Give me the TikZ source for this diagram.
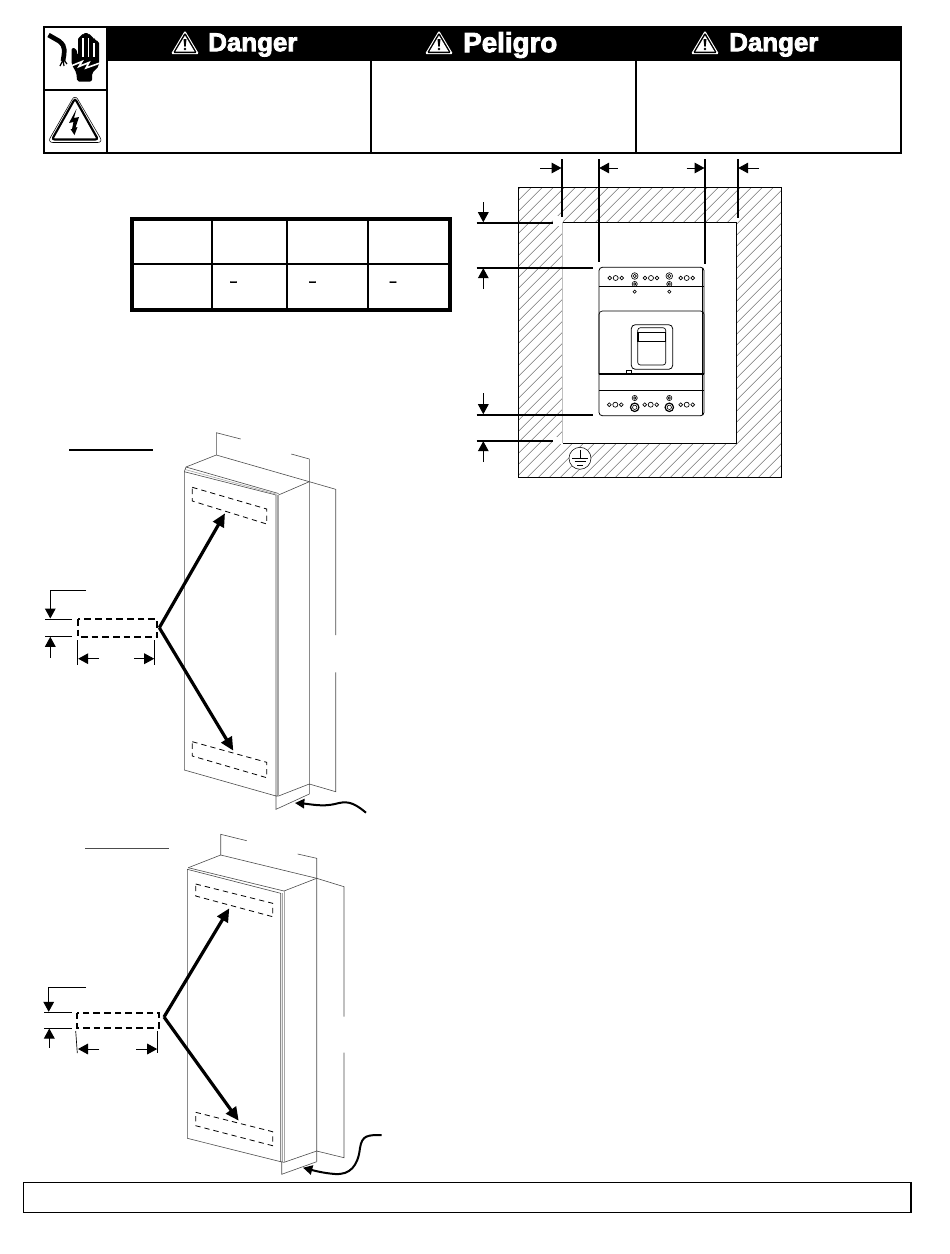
\documentclass[tikz,border=0pt]{standalone}
\usepackage{fontspec}
\usetikzlibrary{arrows.meta}
\newfontfamily\dangerfont[BoldFeatures={FakeBold=3}]{Liberation Sans}

\tikzset{
  thinline/.style={line width=0.45pt,color=black!70},
  doorline/.style={line width=0.45pt,color=black!35},
  hatchline/.style={line width=0.4pt,color=black!55},
  dimline/.style={line width=0.5pt},
  heavyline/.style={line width=1.5pt},
  dimarrow/.style={line width=0.75pt,-{Triangle[length=7.5pt,width=8pt]}},
  bigarrow/.style={line width=2.4pt,-{Triangle[length=10pt,width=9pt]}},
  cablearrow/.style={line width=1.5pt,-{Triangle[length=7pt,width=7pt]}},
  slotdash/.style={line width=0.6pt,dash pattern=on 4pt off 3pt},
  bigdash/.style={line width=1.3pt,dash pattern=on 5pt off 3pt},
  signtext/.style={font=\dangerfont\bfseries\fontsize{19.4pt}{20pt}\selectfont,text=white,inner sep=0pt},
  cellmark/.style={font=\dangerfont\bfseries\fontsize{9.5pt}{10pt}\selectfont,inner sep=0pt},
  pics/warntri/.style={code={
    \fill[white,rounded corners=1pt] (0,12.5) -- (14,-11) -- (-14,-11) -- cycle;
    \fill[black,rounded corners=1pt] (0,10.5) -- (12,-10) -- (-12,-10) -- cycle;
    \fill[white] (0,7.5) -- (9.5,-8.5) -- (-9.5,-8.5) -- cycle;
    \fill[black] (-1.5,4) -- (1.5,4) -- (0.7,-3.5) -- (-0.7,-3.5) -- cycle;
    \fill[black] (0,-6) circle [radius=1.4];
  }},
  pics/holes/.style={code={
    \draw[line width=0.5pt] (-6,0) circle [radius=1.9] (0,0) circle [radius=2.5] (6,0) circle [radius=1.9];
  }},
}

\begin{document}
\begin{tikzpicture}[x=0.75pt,y=0.75pt,yscale=-1,xscale=1]
\useasboundingbox (0,0) rectangle (950,1254);

% warning banner
\fill (107,27) rectangle (901,60.7);
\draw [heavyline] (44,27) rectangle (901,153);
\draw [heavyline] (44,90) -- (107,90);
\draw [heavyline] (107,27) -- (107,153);
\draw [heavyline] (371,60) -- (371,153);
\draw [heavyline] (636,60) -- (636,153);
\pic at (185,43) {warntri};
\pic at (439,43) {warntri};
\pic at (705,43) {warntri};
\node (dangerA) [signtext,anchor=west] at (208,45) {Danger};
\node (peligro) [signtext,anchor=west,font=\dangerfont\bfseries\fontsize{20.8pt}{21pt}\selectfont] at (463,45) {Peligro};
\node (dangerB) [signtext,anchor=west] at (729,45) {Danger};

% hand and cable icon
\draw [line width=3.5pt] (48.5,35) -- (59,41) .. controls (67,47) and (64,53) .. (63,61);
\draw [line width=0.9pt] (63,60) -- (60,66) (63,60) -- (64,66) (64,60) -- (67,64);
\fill [rounded corners=1.5pt] (71.5,48) -- (76,48) -- (78,56) -- (78,37) -- (82,36) -- (83,33) -- (89,33) -- (90,36) -- (94,37) -- (94,40) -- (99,41) -- (99,66) -- (92,73) -- (92,81.5) -- (77,81.5) -- (76.5,73) -- (71.5,64) -- cycle;
\draw [white,line width=0.8pt] (83,38) -- (83,57) (88.5,38) -- (88.5,57) (94,43) -- (94,57);
\draw [white,line width=1.2pt] (71,66) -- (82,61.5) -- (79,66.5) -- (89,62.5) -- (86,68) -- (100,63);

% shock triangle icon
\draw [line width=0.4pt,rounded corners=4pt] (75,94.5) -- (103,142.5) -- (47.5,142.5) -- cycle;
\draw [line width=1.6pt,rounded corners=2pt] (75,98.5) -- (98,139.5) -- (52,139.5) -- cycle;
\fill (76.5,109) -- (69,123) -- (73.5,122) -- (72,129) -- (70.5,129) -- (74.5,135) -- (77.5,127) -- (75.5,127.5) -- (79,117) -- (74,118) -- cycle;

% table
\draw [line width=1.5pt] (212,217) -- (212,311);
\draw [line width=1.5pt] (287,217) -- (287,311);
\draw [line width=1.5pt] (368,217) -- (368,311);
\draw [line width=1.5pt] (131,264) -- (450,264);
\draw [line width=3pt] (132,218.5) rectangle (449.5,309.5);
\node (cellA) [cellmark] at (233.5,283.5) {–};
\node (cellB) [cellmark] at (312.5,283.5) {–};
\node (cellC) [cellmark] at (393,283.5) {–};

% hatched wall
\begin{scope}
\clip (518.3,187.3) rectangle (781.7,477.7);
\foreach \x in {230,241,...,780} {
  \draw [hatchline] (\x,477.7) -- (\x+290.4,187.3);
}
\end{scope}
\fill [white] (562.7,222) rectangle (736.3,443.3);
\fill [white] (553,216) rectangle (563,226);
\fill [white] (553,437) rectangle (563,444);
\draw [line width=0.6pt] (518.3,187.3) rectangle (781.7,477.7);
\draw [line width=0.6pt] (562.7,222) -- (736.3,222) -- (736.3,443.3) -- (562.7,443.3);
\draw [line width=0.6pt,color=black!25] (562.7,222) -- (562.7,443.3);

% ground mark
\draw [line width=0.4pt,fill=white] (580,458.3) circle [radius=11];
\draw [line width=0.5pt] (580,450) -- (580,458) (572,458) -- (588,458) (574.5,461.5) -- (585.5,461.5) (577,465) -- (583,465);

% breaker
\draw [line width=0.6pt,rounded corners=2.5pt,fill=white] (599,267.3) rectangle (704,415.7);
\draw [line width=0.5pt] (599,286) -- (704,286);
\draw [line width=0.5pt,rounded corners=2.5pt] (599,374) -- (599,311) -- (704,311) -- (704,374);
\draw [line width=0.8pt] (599,374) -- (704,374);
\draw [line width=0.5pt] (599,390.7) -- (704,390.7);
\draw [line width=0.7pt] (702.5,268) -- (702.5,415);
\draw [line width=0.6pt,rounded corners=3pt] (631.3,324.7) rectangle (672.7,369.3);
\draw [line width=0.5pt,rounded corners=2pt] (637.7,327.7) rectangle (665.7,365);
\draw [line width=0.5pt] (637.7,332) -- (665.7,332);
\draw [line width=1pt] (638,332) -- (638,341.7) (665.4,332) -- (665.4,341.7);
\draw [line width=0.5pt] (637.7,341.7) -- (665.7,341.7);
\draw [line width=0.5pt] (626.3,370) rectangle (631.7,374);
\pic at (615.7,278) {holes};
\pic at (651,278) {holes};
\pic at (686.7,278) {holes};
\pic at (615.3,404.7) {holes};
\pic at (650.7,404.7) {holes};
\pic at (686.7,404.7) {holes};
\foreach \x in {634.7,669.3} {
  \draw [line width=0.45pt] (\x,276) circle [radius=3.3] (\x,276) circle [radius=1.7];
  \draw [line width=0.45pt] (\x,284) circle [radius=2.6] (\x,284) circle [radius=1.2];
  \draw [line width=0.45pt] (\x,291.7) circle [radius=1.6];
  \draw [line width=0.45pt] (\x,398) circle [radius=2.6] (\x,398) circle [radius=1.2];
  \draw [line width=0.9pt] (\x,407.3) circle [radius=4.2];
  \draw [line width=0.45pt] (\x,407.3) circle [radius=2.2];
}

% breaker clearances
\draw [heavyline] (562,159) -- (562,216.7);
\draw [heavyline] (598.7,159) -- (598.7,261.7);
\draw [heavyline] (705,159) -- (705,263.7);
\draw [heavyline] (737.7,159) -- (737.7,218);
\draw [heavyline] (476.7,222.7) -- (553,222.7);
\draw [heavyline] (476.7,267.7) -- (593,267.7);
\draw [heavyline] (476.7,414.7) -- (593,414.7);
\draw [heavyline] (476.7,440.7) -- (553,440.7);
\draw [dimarrow] (540,168) -- (561.5,168);
\draw [dimarrow] (617.7,168) -- (599.2,168);
\draw [dimarrow] (686.7,168) -- (704.5,168);
\draw [dimarrow] (759,168) -- (738.2,168);
\draw [dimarrow] (483.3,202) -- (483.3,222.2);
\draw [dimarrow] (483.3,289) -- (483.3,268.2);
\draw [dimarrow] (483.3,393) -- (483.3,414.2);
\draw [dimarrow] (483.3,462) -- (483.3,441.2);

% upper enclosure
\draw [line width=1pt] (69.3,450) -- (152.7,450);
\draw [thinline] (184.3,471.7) -- (276,495) -- (276,796) -- (184.3,770) -- cycle;
\draw [doorline] (277.3,495) -- (277.3,796);
\draw [thinline] (278.5,495) -- (309.3,481.7) -- (309.3,784) -- (278.5,796) -- (276,796);
\draw [doorline] (278.5,495) -- (278.5,796);
\draw [thinline] (186,467) -- (216.3,455) -- (309.3,481.7);
\draw [thinline] (186,467) -- (278.5,493.5);
\draw [doorline] (185,469.5) -- (277,494.3);
\draw [thinline] (184.3,471.7) -- (186,467);
\draw [thinline] (216.3,455) -- (216.3,432.7) -- (240.7,439);
\draw [thinline] (291.3,454) -- (309.3,459) -- (309.3,481.7);
\draw [thinline] (309.3,481.7) -- (335.7,489.3) -- (335.7,635);
\draw [thinline] (335.7,672.3) -- (335.7,791.7) -- (309.3,784) -- (309.3,794);
\draw [thinline] (276,796) -- (276,809.3) -- (309.3,794);
\draw [slotdash] (192.3,487.3) -- (266.7,509) -- (266.7,524) -- (192.3,501) -- cycle;
\draw [slotdash] (192.3,741.7) -- (266.7,762.3) -- (266.7,777.7) -- (192.3,756) -- cycle;
\draw [bigdash] (77.7,619) rectangle (157,637);
\coordinate (apexA) at (159.3,627.7);
\draw [bigarrow] (apexA) -- (225,513.3);
\draw [bigarrow] (apexA) -- (233.3,750.7);
\draw [dimline] (86,590.3) -- (50.3,590.3);
\draw [dimarrow] (50.3,590.3) -- (50.3,618.5);
\draw [dimline] (45,619.3) -- (71.7,619.3);
\draw [dimline] (45,636.3) -- (71.7,636.3);
\draw [dimarrow] (50.3,657.7) -- (50.3,636.8);
\draw [dimline] (77.7,640) -- (77.7,665);
\draw [dimline] (154.7,640) -- (154.7,665);
\draw [dimarrow] (99,658.7) -- (78.2,658.7);
\draw [dimarrow] (134,658.7) -- (154.2,658.7);
\draw [cablearrow] (366,812.7) .. controls (352,801) and (346,801) .. (335,804) .. controls (322,807) and (310,804) .. (295,803);

% lower enclosure
\draw [line width=1pt,color=black!70] (85,848.7) -- (169,848.7);
\draw [thinline] (187.3,869.3) -- (280.7,893.3) -- (280.7,1161.7) -- (187.3,1138.3) -- cycle;
\draw [doorline] (282.5,893) -- (282.5,1162);
\draw [thinline] (284,891) -- (316.7,878.3) -- (316.7,1151) -- (284,1162.3) -- (280.7,1161.7);
\draw [doorline] (284,891) -- (284,1162.3);
\draw [thinline] (188.3,867.7) -- (220.7,855) -- (316.7,878.3);
\draw [thinline] (188.3,867.7) -- (284,891);
\draw [thinline] (220.7,855) -- (220.7,834.3) -- (246.7,840.7);
\draw [thinline] (297.7,854) -- (316.7,858.3) -- (316.7,878.3);
\draw [thinline] (316.7,878.3) -- (344,886.7) -- (344,1016.7);
\draw [thinline] (344,1052.7) -- (344,1157.7) -- (316.7,1151) -- (316.7,1161.7);
\draw [thinline] (281.7,1161.7) -- (281.7,1174.3) -- (316.7,1161.7);
\draw [slotdash] (195.7,884) -- (272.7,903.3) -- (272.7,916.7) -- (195.7,896) -- cycle;
\draw [slotdash] (195.7,1112.3) -- (272.7,1131.7) -- (272.7,1145.7) -- (195.7,1125.7) -- cycle;
\draw [bigdash] (76.7,1012.7) rectangle (158.7,1027.7);
\coordinate (apexB) at (164,1017);
\draw [bigarrow] (apexB) -- (229.3,908.3);
\draw [bigarrow] (apexB) -- (238.7,1120.7);
\draw [dimline] (86,987.3) -- (48.7,987.3);
\draw [dimarrow] (48.7,987.3) -- (48.7,1011.8);
\draw [dimline] (44,1012.3) -- (71.7,1012.3);
\draw [dimline] (44,1028) -- (71.7,1028);
\draw [dimarrow] (49.3,1047.7) -- (49.3,1028.5);
\draw [dimline] (75.7,1031) -- (77.3,1053);
\draw [dimline] (157.7,1031) -- (157.7,1053);
\draw [dimarrow] (99.3,1049) -- (78,1049);
\draw [dimarrow] (136,1049) -- (157.2,1049);
\draw [cablearrow] (381.7,1135) .. controls (368,1135) and (362,1135) .. (360,1148) .. controls (358,1166) and (350,1175) .. (335,1174) .. controls (322,1173) and (312,1170) .. (303,1167.7);

% footer
\draw [line width=0.8pt] (23.5,1182.3) rectangle (911,1212.3);

\end{tikzpicture}
\end{document}
